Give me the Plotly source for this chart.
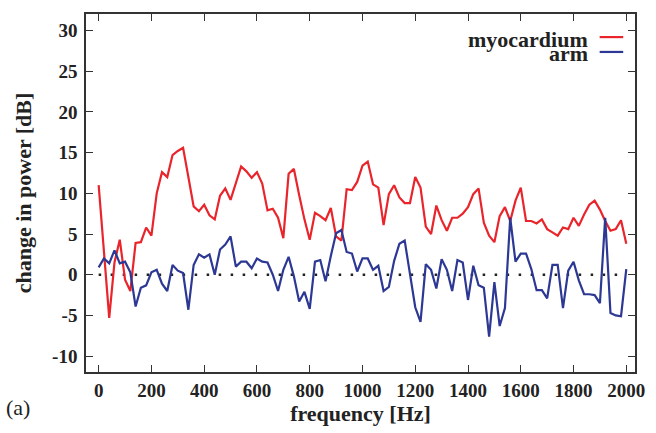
import plotly.graph_objects as go

freq_hz = list(range(0, 2001, 20))

myocardium_db = [
    11.0, 2.6, -5.3, 1.5, 4.3, -0.6, -2.0, 3.9, 4.0, 5.8,
    4.8, 10.0, 12.6, 12.0, 14.7, 15.2, 15.6, 12.0, 8.4, 7.8,
    8.6, 7.3, 6.8, 9.7, 10.6, 9.2, 11.4, 13.3, 12.7, 11.9,
    12.6, 11.2, 7.9, 8.1, 7.0, 4.5, 12.4, 13.0, 9.8, 6.8,
    4.3, 7.6, 7.2, 6.7, 8.2, 4.7, 4.2, 10.5, 10.4, 11.4,
    13.4, 13.9, 11.1, 10.7, 6.1, 9.9, 11.0, 9.5, 8.8, 8.8,
    12.0, 10.7, 5.9, 5.0, 8.5, 6.7, 5.4, 7.0, 7.0, 7.5,
    8.3, 9.9, 10.6, 6.4, 4.8, 4.0, 7.2, 8.3, 6.6, 9.1,
    10.7, 6.6, 6.6, 6.3, 6.8, 5.6, 5.2, 4.8, 5.8, 5.6,
    7.0, 6.0, 7.4, 8.6, 9.1, 8.0, 6.6, 5.4, 5.6, 6.7,
    3.8,
]

arm_db = [
    0.9, 2.0, 1.4, 3.0, 1.4, 1.6, 0.3, -3.9, -1.6, -1.3,
    0.3, 0.6, -1.1, -2.0, 1.2, 0.5, 0.2, -4.3, 1.2, 2.5,
    2.1, 2.5, 0.0, 3.1, 3.7, 4.7, 1.0, 1.6, 1.6, 0.8,
    2.0, 1.6, 1.5, 0.0, -2.0, 0.6, 2.2, -0.2, -3.3, -2.1,
    -4.2, 1.6, 1.8, -0.8, 2.3, 5.1, 5.5, 2.8, 2.6, 0.4,
    2.0, 2.0, 0.6, 1.1, -2.0, -1.5, 1.7, 3.8, 4.2, 0.1,
    -4.0, -5.8, 1.3, 0.6, -1.7, 1.9, 0.6, -2.0, 1.8, 1.5,
    -3.1, 1.1, -1.3, -1.6, -7.6, -0.9, -6.3, -4.1, 7.0, 1.6,
    2.6, 2.6, 0.7, -1.9, -1.9, -2.9, 1.2, 1.2, -4.1, 0.5,
    1.6, -0.7, -2.4, -2.4, -2.5, -3.5, 7.0, -4.7, -5.0, -5.1,
    0.7,
]

x_ticks = [0, 200, 400, 600, 800, 1000, 1200, 1400, 1600, 1800, 2000]
y_ticks = [-10, -5, 0, 5, 10, 15, 20, 25, 30]

RED = "#e9252b"
BLUE = "#2c3893"
FRAME = "#333333"
FONT = "Liberation Serif, Times New Roman, Times, serif"

fig = go.Figure()
fig.add_trace(go.Scatter(x=freq_hz, y=myocardium_db, mode="lines", name="myocardium",
                         line=dict(color=RED, width=2.2)))
fig.add_trace(go.Scatter(x=freq_hz, y=arm_db, mode="lines", name="arm",
                         line=dict(color=BLUE, width=2.2)))

# zero reference dotted line
fig.add_shape(type="line", xref="x", yref="y", x0=freq_hz[0], x1=freq_hz[-1], y0=0, y1=0,
              line=dict(color="#222222", width=2.5, dash="2.5px,9.5px"), layer="below")

axis_common = dict(
    showgrid=False, zeroline=False, showline=True, linecolor=FRAME, linewidth=1.5,
    mirror="allticks", ticks="inside", ticklen=7, tickwidth=1.2, tickcolor=FRAME,
    tickfont=dict(family=FONT, size=19, color="#222222", weight="bold"),
)

fig.update_xaxes(range=[-48, 2033], tickvals=x_ticks, ticktext=[str(v) for v in x_ticks],
                 title=dict(text="<b>frequency [Hz]</b>", font=dict(family=FONT, size=22, color="#222222"),
                            standoff=6),
                 **axis_common)
fig.update_yaxes(range=[-11.95, 32.03], tickvals=y_ticks, ticktext=[str(v) for v in y_ticks],
                 ticklabelstandoff=3,
                 title=dict(text="<b>change in power [dB]</b>", font=dict(family=FONT, size=22, color="#222222"),
                            standoff=14),
                 **axis_common)

# legend drawn manually (text to the left of the line sample)
legend_items = [("myocardium", RED, 0.930, 0.9355), ("arm", BLUE, 0.891, 0.894)]
for label, color, ytext, yline in legend_items:
    fig.add_annotation(xref="paper", yref="paper", x=0.918, y=ytext, xanchor="right", yanchor="middle",
                       text="<b>" + label + "</b>", showarrow=False,
                       font=dict(family=FONT, size=22, color="#222222"))
    fig.add_shape(type="line", xref="paper", yref="paper", x0=0.9356, x1=0.9785, y0=yline, y1=yline,
                  line=dict(color=color, width=2.2))

fig.add_annotation(xref="paper", yref="paper", x=-0.150, y=-0.0997, xanchor="left", yanchor="middle",
                   text="(a)", showarrow=False, font=dict(family=FONT, size=22, color="#222222"))

fig.update_layout(
    width=656, height=433,
    margin=dict(l=86, r=11, t=14, b=58),
    plot_bgcolor="white", paper_bgcolor="white",
    showlegend=False,
)

fig.write_html("out.html")
